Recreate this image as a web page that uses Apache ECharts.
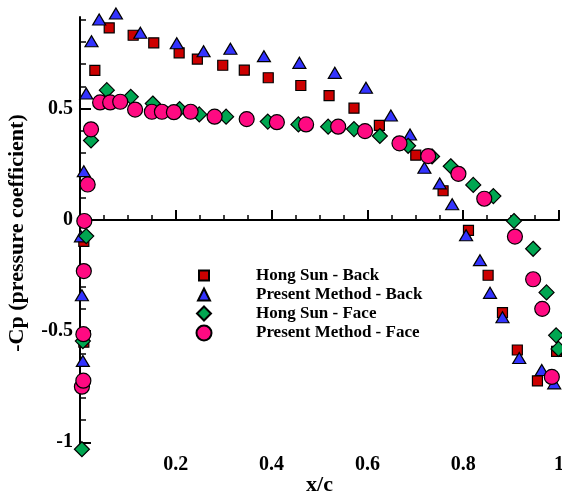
<!DOCTYPE html>
<html>
<head>
<meta charset="utf-8">
<script src="https://cdn.jsdelivr.net/npm/echarts@6/dist/echarts.min.js"></script>
<style>
  html, body { margin: 0; padding: 0; background: #fff; }
  #chart { width: 562px; height: 496px; }
</style>
</head>
<body>
<div id="chart"></div>
<script>
// Pressure coefficient along the chord, back and face of the blade section
const seriesNames = ['Hong Sun - Back', 'Present Method - Back', 'Hong Sun - Face', 'Present Method - Face'];

const hongBackX = [0.008, 0.008, 0.031, 0.061, 0.111, 0.154, 0.207, 0.245, 0.298, 0.343, 0.393, 0.461, 0.520, 0.572, 0.625, 0.701, 0.758, 0.811, 0.852, 0.882, 0.913, 0.955, 0.995];
const hongBackY = [-0.097, -0.55, 0.672, 0.863, 0.830, 0.796, 0.751, 0.723, 0.695, 0.673, 0.639, 0.604, 0.559, 0.502, 0.425, 0.291, 0.131, -0.047, -0.249, -0.417, -0.585, -0.724, -0.591];

const presentBackX = [0.002, 0.004, 0.006, 0.008, 0.013, 0.024, 0.040, 0.075, 0.126, 0.202, 0.258, 0.314, 0.384, 0.458, 0.532, 0.597, 0.649, 0.689, 0.719, 0.751, 0.777, 0.806, 0.835, 0.856, 0.882, 0.917, 0.964, 0.990];
const presentBackY = [-0.074, -0.339, -0.634, 0.219, 0.568, 0.803, 0.901, 0.928, 0.841, 0.794, 0.758, 0.769, 0.736, 0.706, 0.661, 0.594, 0.469, 0.384, 0.234, 0.164, 0.070, -0.069, -0.181, -0.328, -0.438, -0.621, -0.675, -0.735];

const hongFaceX = [0.004, 0.006, 0.013, 0.023, 0.056, 0.106, 0.152, 0.208, 0.249, 0.305, 0.392, 0.456, 0.518, 0.572, 0.626, 0.685, 0.735, 0.774, 0.821, 0.863, 0.906, 0.946, 0.974, 0.994, 0.999];
const hongFaceY = [-1.031, -0.545, -0.073, 0.357, 0.583, 0.553, 0.523, 0.498, 0.474, 0.464, 0.442, 0.429, 0.419, 0.408, 0.377, 0.333, 0.285, 0.241, 0.157, 0.107, -0.005, -0.130, -0.326, -0.519, -0.580];

const presentFaceX = [0.004, 0.007, 0.007, 0.008, 0.009, 0.016, 0.023, 0.042, 0.063, 0.084, 0.115, 0.150, 0.171, 0.196, 0.231, 0.281, 0.348, 0.411, 0.472, 0.539, 0.595, 0.667, 0.727, 0.790, 0.844, 0.908, 0.946, 0.965, 0.985];
const presentFaceY = [-0.750, -0.723, -0.514, -0.230, -0.005, 0.159, 0.407, 0.528, 0.528, 0.531, 0.496, 0.486, 0.486, 0.484, 0.486, 0.464, 0.453, 0.439, 0.429, 0.419, 0.399, 0.344, 0.287, 0.207, 0.095, -0.075, -0.267, -0.400, -0.706];

const yMajorTicks = [-1, -0.5, 0, 0.5];
const yMinorTicks = [-0.9, -0.8, -0.7, -0.6, -0.4, -0.3, -0.2, -0.1, 0.1, 0.2, 0.3, 0.4, 0.6, 0.7, 0.8, 0.9];

const pair = (xs, ys) => xs.map((x, i) => [x, ys[i]]);

const FONT = '"Liberation Serif", "Times New Roman", serif';
const markerStyles = [
  { symbol: 'rect', size: 10, color: '#cc0000', legendSize: 10 },
  { symbol: 'triangle', size: [13, 11], color: '#3333ff', legendSize: 12 },
  { symbol: 'diamond', size: 15, color: '#00a651', legendSize: 14 },
  { symbol: 'circle', size: 15, color: '#ff0a82', legendSize: 15 }
];
const seriesData = [
  pair(hongBackX, hongBackY),
  pair(presentBackX, presentBackY),
  pair(hongFaceX, hongFaceY),
  pair(presentFaceX, presentFaceY)
];

const legendRows = [272, 292, 312, 332];
const legendIconX = 203;
const legendTextX = 255;

const chart = echarts.init(document.getElementById('chart'), null, { renderer: 'canvas' });

const yRange = { min: -1.03, max: 0.912 };

chart.setOption({
  backgroundColor: '#ffffff',
  animation: false,
  grid: { left: 80, width: 479, top: 17, height: 432, containLabel: false, outerBoundsMode: 'none' },
  legend: seriesNames.map((name, i) => {
    const s = markerStyles[i].legendSize;
    const left = legendIconX - s / 2;
    return {
      data: [name],
      left: left,
      top: legendRows[i] - s / 2,
      padding: 0,
      itemWidth: s,
      itemHeight: s,
      selectedMode: false,
      textStyle: {
        fontFamily: FONT, fontWeight: 'bold', fontSize: 17, color: '#000',
        padding: [0, 0, 0, legendTextX - (left + s + 5)]
      }
    };
  }),
  xAxis: {
    type: 'value', min: 0, max: 1, interval: 0.2,
    name: 'x/c', nameLocation: 'middle', nameGap: 25, nameMoveOverlap: false,
    nameTextStyle: { fontFamily: FONT, fontWeight: 'bold', fontSize: 22, color: '#000' },
    axisLine: { show: true, lineStyle: { color: '#000', width: 2 } },
    axisTick: { show: true, inside: true, length: 10, lineStyle: { color: '#000', width: 2 } },
    minorTick: { show: true, splitNumber: 4, length: 5, lineStyle: { color: '#000', width: 1.5 } },
    splitLine: { show: false },
    axisLabel: {
      margin: 6, fontFamily: FONT, fontWeight: 'bold', fontSize: 20, color: '#000',
      formatter: v => (v === 0 ? '' : String(v))
    }
  },
  yAxis: [
    {
      type: 'value', min: yRange.min, max: yRange.max, position: 'left',
      name: '-Cp (pressure coefficient)', nameLocation: 'middle', nameGap: 52, nameMoveOverlap: false,
      nameTextStyle: { fontFamily: FONT, fontWeight: 'bold', fontSize: 22, color: '#000' },
      axisLine: { show: true, lineStyle: { color: '#000', width: 2 } },
      axisTick: { show: true, inside: true, length: 11, customValues: yMajorTicks, lineStyle: { color: '#000', width: 2 } },
      splitLine: { show: false },
      axisLabel: {
        margin: 7, customValues: yMajorTicks, fontFamily: FONT, fontWeight: 'bold', fontSize: 20, color: '#000',
        formatter: v => String(v)
      }
    },
    {
      type: 'value', min: yRange.min, max: yRange.max, position: 'left', offset: 0,
      axisLine: { show: false },
      axisTick: { show: true, inside: true, length: 6, customValues: yMinorTicks, lineStyle: { color: '#000', width: 1.5 } },
      axisLabel: { show: false },
      splitLine: { show: false }
    }
  ],
  series: seriesNames.map((name, i) => ({
    name: name,
    type: 'scatter',
    yAxisIndex: 0,
    clip: false,
    symbol: markerStyles[i].symbol,
    symbolSize: markerStyles[i].size,
    itemStyle: { color: markerStyles[i].color, borderColor: '#000', borderWidth: 1.2, opacity: 1 },
    emphasis: { disabled: true },
    data: seriesData[i]
  }))
});
</script>
</body>
</html>
